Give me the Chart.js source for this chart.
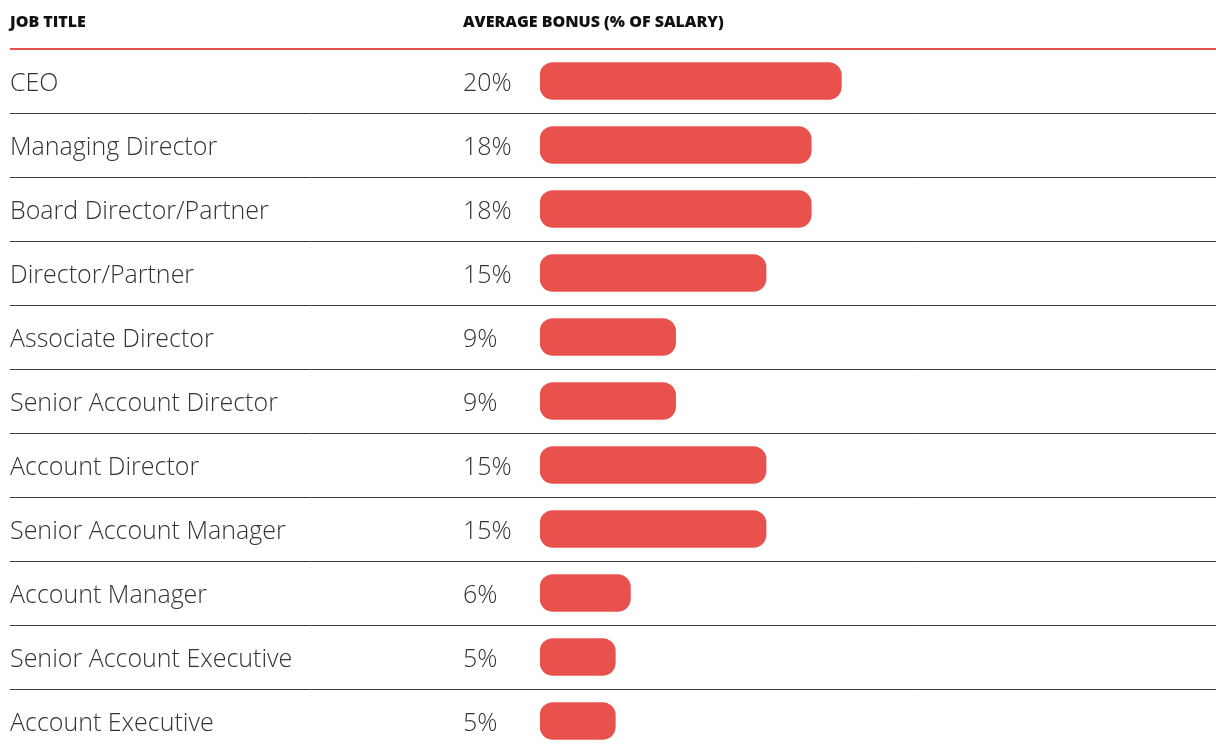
<!DOCTYPE html>
<html>
<head>
<meta charset="utf-8">
<script src="https://cdn.jsdelivr.net/npm/chart.js@4"></script>
<style>
  html, body { margin: 0; padding: 0; background: #fff; overflow: hidden; }
  canvas { display: block; }
</style>
</head>
<body>
<canvas id="bonusChart" width="1216" height="753"></canvas>
<script>
const jobTitles = [
  'CEO',
  'Managing Director',
  'Board Director/Partner',
  'Director/Partner',
  'Associate Director',
  'Senior Account Director',
  'Account Director',
  'Senior Account Manager',
  'Account Manager',
  'Senior Account Executive',
  'Account Executive'
];
const bonusPct = [20, 18, 18, 15, 9, 9, 15, 15, 6, 5, 5];
const headers = ['JOB TITLE', 'AVERAGE BONUS (% OF SALARY)'];

const barRed = '#e9524c';
const textFamily = '"Open Sans", sans-serif';

// header, red rule, row separators and the % column
const tablePlugin = {
  id: 'tableLook',
  afterDatasetsDraw(chart) {
    const ctx = chart.ctx;
    const area = chart.chartArea;
    const yScale = chart.scales.y;
    const meta = chart.getDatasetMeta(0);
    ctx.save();

    ctx.font = '800 16px ' + textFamily;
    ctx.fillStyle = '#111';
    ctx.textBaseline = 'middle';
    ctx.textAlign = 'left';
    ctx.fillText(headers[0], 10, 22);
    ctx.fillText(headers[1], 463, 22);

    ctx.strokeStyle = barRed;
    ctx.lineWidth = 2;
    ctx.beginPath();
    ctx.moveTo(10, area.top);
    ctx.lineTo(chart.width, area.top);
    ctx.stroke();

    ctx.strokeStyle = '#3a3a3a';
    ctx.lineWidth = 1;
    for (let i = 0; i < jobTitles.length - 1; i++) {
      const y = Math.round(yScale.getPixelForValue(i + 0.5)) + 0.5;
      ctx.beginPath();
      ctx.moveTo(10, y);
      ctx.lineTo(chart.width, y);
      ctx.stroke();
    }

    ctx.font = '300 25px ' + textFamily;
    ctx.fillStyle = '#333';
    meta.data.forEach((bar, i) => {
      ctx.fillText(bonusPct[i] + '%', 463, bar.y + 3);
    });
    ctx.restore();
  }
};

new Chart(document.getElementById('bonusChart'), {
  type: 'bar',
  data: {
    labels: jobTitles,
    datasets: [{
      label: 'Average bonus',
      data: bonusPct,
      backgroundColor: barRed,
      borderRadius: 13,
      borderSkipped: false,
      barThickness: 37
    }]
  },
  options: {
    indexAxis: 'y',
    responsive: false,
    animation: false,
    layout: {
      autoPadding: false,
      padding: { top: 49, left: 10, right: 13, bottom: 0 }
    },
    plugins: {
      legend: { display: false },
      tooltip: { enabled: false }
    },
    scales: {
      x: {
        display: false,
        min: 0,
        max: 44
      },
      y: {
        grid: { display: false },
        border: { display: false },
        afterFit(scale) { scale.width = 530; },
        ticks: {
          crossAlign: 'far',
          color: '#333',
          padding: 0,
          labelOffset: 3,
          // zero line height so the labels don't shrink the row band
          font: { family: textFamily, size: 25, weight: 300, lineHeight: 0 }
        }
      }
    }
  },
  plugins: [tablePlugin]
});
</script>
</body>
</html>
